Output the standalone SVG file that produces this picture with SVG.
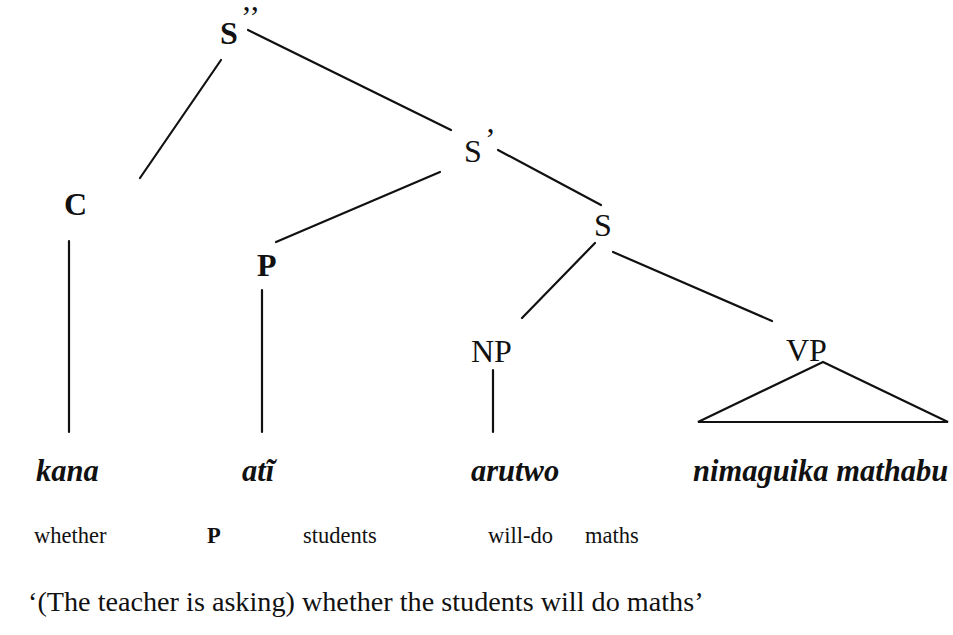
<svg xmlns="http://www.w3.org/2000/svg" width="953" height="635" viewBox="0 0 953 635">
<style>
.lbl{font-family:"Liberation Serif","Times New Roman",serif;font-size:32px;fill:#111}
.b{font-weight:bold}
.w{font-family:"Liberation Serif","Times New Roman",serif;font-size:22.5px;fill:#111}
.i{font-style:italic;font-weight:bold;font-size:30.5px}
.t{font-size:28.2px}
.e{stroke:#111;stroke-width:2.2;fill:none;stroke-linecap:round}
</style>
<rect width="953" height="635" fill="#fff"/>
<g id="edges">
<line class="e" x1="248" y1="30" x2="451" y2="130"/>
<line class="e" x1="221" y1="60" x2="140" y2="178"/>
<line class="e" x1="69" y1="241" x2="69" y2="432"/>
<line class="e" x1="440" y1="172" x2="276" y2="242"/>
<line class="e" x1="498" y1="150" x2="601" y2="205"/>
<line class="e" x1="262" y1="290" x2="262" y2="432"/>
<line class="e" x1="595" y1="243" x2="522" y2="318"/>
<line class="e" x1="613" y1="252" x2="772" y2="321"/>
<line class="e" x1="493" y1="370" x2="493" y2="432"/>
<polygon class="e" points="823,362 698,422 948,422"/>
</g>
<g id="S2"><text class="lbl b" x="220" y="44" font-size="34">S</text><text class="lbl" x="241" y="28" font-size="22">’’</text></g>
<g id="Sbar"><text class="lbl" x="464" y="162">S</text><text class="lbl" x="485" y="150" font-size="20">’</text></g>
<g id="C"><text class="lbl b" x="64" y="215">C</text></g>
<g id="P"><text class="lbl b" x="257" y="276">P</text></g>
<g id="S"><text class="lbl" x="594" y="236">S</text></g>
<g id="NP"><text class="lbl" x="471" y="362">NP</text></g>
<g id="VP"><text class="lbl" x="786" y="361">VP</text></g>
<g id="words">
<text class="w i" x="36" y="481">kana</text>
<text class="w i" x="242" y="481">atĩ</text>
<text class="w i" x="471" y="481">arutwo</text>
<text class="w i" x="693" y="481">nimaguika mathabu</text>
</g>
<g id="gloss">
<text class="w" x="34" y="543">whether</text>
<text class="w b" x="207" y="543">P</text>
<text class="w" x="303" y="543">students</text>
<text class="w" x="488" y="543">will-do</text>
<text class="w" x="585" y="543">maths</text>
</g>
<g id="translation"><text class="w t" x="28" y="611">‘(The teacher is asking) whether the students will do maths’</text></g>
</svg>
